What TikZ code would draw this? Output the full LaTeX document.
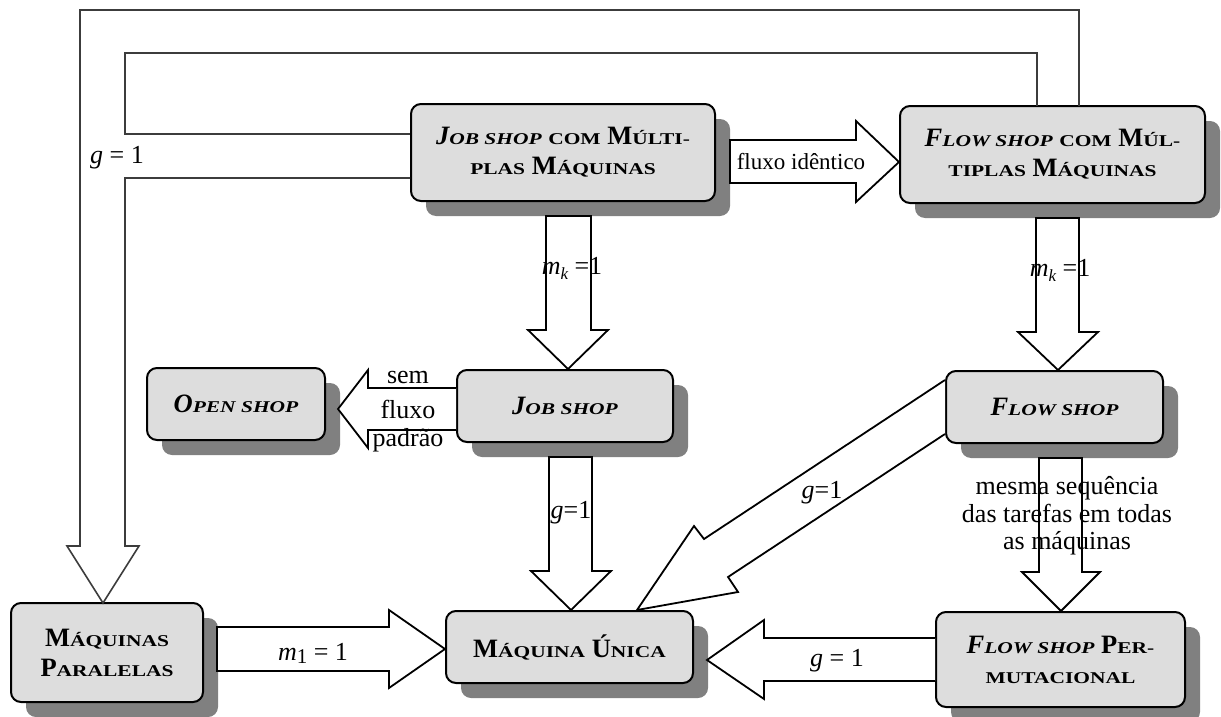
\documentclass[tikz,border=0pt]{standalone}
\usepackage{fontspec}
\setmainfont{Liberation Serif}
\usepackage{graphicx}
\usetikzlibrary{shadows}
\definecolor{boxfill}{HTML}{DDDDDD}
\definecolor{shadowgray}{HTML}{808080}
\definecolor{darkline}{HTML}{3C3C3C}
\newcommand\sm[1]{\scalebox{1.3}[1]{\fontsize{16.5}{30}\selectfont #1}}
\newcommand\bxfont{\fontsize{26.5}{30}\selectfont\bfseries}
\newcommand\lbfont{\fontsize{26}{31}\selectfont}
\begin{document}
\begin{tikzpicture}[x=1pt,y=-1pt,
  box/.style={draw=black, line width=2pt, fill=boxfill, rounded corners=10pt,
    align=center, inner sep=0pt, font=\bxfont,
    drop shadow={shadow xshift=15pt, shadow yshift=-15pt, opacity=1, fill=shadowgray}},
  barrow/.style={draw=black, line width=1.8pt, fill=white, line join=miter},
  bigarrow/.style={draw=darkline, line width=1.6pt},
  lbl/.style={font=\lbfont, inner sep=0pt, align=center}]
\useasboundingbox (0,0) rectangle (1221,717);

% boxes
\node[box, minimum width=304pt, minimum height=97pt] (jsm) at (563,152.5)
  {{\itshape J\sm{OB SHOP}} \sm{COM} M\sm{ÚLTI-}\\ \sm{PLAS} M\sm{ÁQUINAS}};
\node[box, minimum width=305pt, minimum height=97pt] (fsm) at (1052.5,154.5)
  {{\itshape F\sm{LOW SHOP}} \sm{COM} M\sm{ÚL-}\\ \sm{TIPLAS} M\sm{ÁQUINAS}};
\node[box, minimum width=178pt, minimum height=72pt] (open) at (236,404)
  {{\itshape O\sm{PEN SHOP}}};
\node[box, minimum width=216pt, minimum height=72pt] (job) at (565,406)
  {{\itshape J\sm{OB SHOP}}};
\node[box, minimum width=217pt, minimum height=72pt] (flow) at (1054.5,407)
  {{\itshape F\sm{LOW SHOP}}};
\node[box, minimum width=192pt, minimum height=99pt] (par) at (107,652.5)
  {M\sm{ÁQUINAS}\\ P\sm{ARALELAS}};
\node[box, minimum width=247pt, minimum height=72pt] (uni) at (569.5,647)
  {M\sm{ÁQUINA} Ú\sm{NICA}};
\node[box, minimum width=249pt, minimum height=95pt] (perm) at (1060.5,659.5)
  {{\itshape F\sm{LOW SHOP}} P\sm{ER-}\\ \sm{MUTACIONAL}};

% big feedback arrow to Maquinas Paralelas
\draw[bigarrow] (1079,106) -- (1079,10) -- (80,10) -- (80,546) -- (67,546)
  -- (103,603) -- (139,546) -- (125,546) -- (125,178) -- (jsm.west |- 0,178);
\draw[bigarrow] (1037,106) -- (1037,53) -- (125,53) -- (125,134) -- (jsm.west |- 0,134);
\node[lbl] (lg0) at (117,158) {{\itshape g} = 1};

% fluxo identico
\draw[barrow] (730,140) -- (856,140) -- (856,121) -- (fsm.west |- 0,162) -- (856,202)
  -- (856,183) -- (730,183) -- cycle;
\node[lbl, font=\fontsize{23}{26}\selectfont] (lA) at (801,162) {fluxo idêntico};

% m_k = 1 (left)
\draw[barrow] (546,216) -- (546,330) -- (528,330) -- (568,369) -- (608,330)
  -- (591,330) -- (591,216) -- cycle;
\node[lbl] (lB) at (572,268) {{\itshape m}\raisebox{-5pt}{\fontsize{17}{17}\selectfont\itshape k} =1};

% m_k = 1 (right)
\draw[barrow] (1036,218) -- (1036,332) -- (1018,332) -- (1058,370) -- (1098,332)
  -- (1079,332) -- (1079,218) -- cycle;
\node[lbl] (lC) at (1060,270) {{\itshape m}\raisebox{-5pt}{\fontsize{17}{17}\selectfont\itshape k} =1};

% sem fluxo padrao
\draw[barrow] (job.west |- 0,388) -- (368,388) -- (368,370) -- (338,409) -- (368,448)
  -- (368,430) -- (job.west |- 0,430);
\node[lbl] (lD1) at (408,377) {sem};
\node[lbl] (lD2) at (408,409) {fluxo};
\node[lbl] (lD3) at (408,440) {padrão};

% g=1 job shop -> maquina unica
\draw[barrow] (549,457) -- (549,571) -- (531,571) -- (571,610) -- (611,571)
  -- (592,571) -- (592,457) -- cycle;
\node[lbl] (lE) at (571,513) {{\itshape g}=1};

% g=1 flow shop -> maquina unica (diagonal)
\draw[barrow] (flow.west |- 0,380) -- (704,539) -- (694,526) -- (637,610) -- (738,592)
  -- (728,577) -- (flow.west |- 0,434);
\node[lbl] (lF) at (822,493) {{\itshape g}=1};

% mesma sequencia
\draw[barrow] (1039,458) -- (1039,572) -- (1022,572) -- (1061,611) -- (1100,572)
  -- (1082,572) -- (1082,458) -- cycle;
\node[lbl, font=\fontsize{26}{27.5}\selectfont] (lG) at (1067,516)
  {mesma sequência\\ das tarefas em todas\\ as máquinas};

% g = 1 permutacional -> maquina unica
\draw[barrow] (perm.west |- 0,638) -- (764,638) -- (764,620) -- (707,660) -- (764,699)
  -- (764,681) -- (perm.west |- 0,681);
\node[lbl] (lH) at (837,661) {{\itshape g} = 1};

% m1 = 1 paralelas -> maquina unica
\draw[barrow] (217,627) -- (389,627) -- (389,610) -- (uni.west |- 0,649) -- (389,688)
  -- (389,671) -- (217,671) -- cycle;
\node[lbl] (lI) at (313,653) {{\itshape m}\raisebox{-3pt}{\fontsize{21}{21}\selectfont 1} = 1};
\end{tikzpicture}
\end{document}
